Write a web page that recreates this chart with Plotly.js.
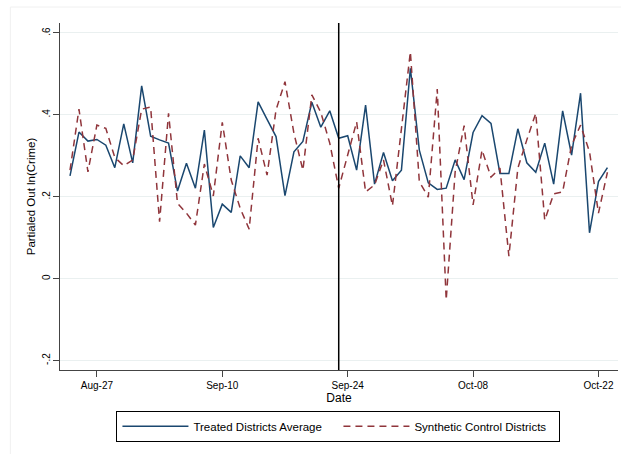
<!DOCTYPE html>
<html>
<head>
<meta charset="utf-8">
<script src="https://cdn.plot.ly/plotly-3.0.1.min.js"></script>
<style>html,body{margin:0;padding:0;background:#fff;}#chart{width:621px;height:454px;}</style>
</head>
<body>
<div id="chart"></div>
<script>
// ---- data ----
var startDate = "2019-08-24";
var nDays = 61;
var treated = [0.251,0.358,0.336,0.340,0.326,0.271,0.378,0.283,0.471,0.348,
  0.339,0.331,0.214,0.282,0.221,0.363,0.125,0.182,0.162,0.300,
  0.271,0.432,0.389,0.347,0.203,0.310,0.335,0.431,0.370,0.410,
  0.343,0.349,0.265,0.424,0.231,0.308,0.239,0.265,0.514,0.314,
  0.234,0.218,0.221,0.290,0.242,0.357,0.398,0.379,0.257,0.257,
  0.366,0.283,0.260,0.331,0.231,0.410,0.302,0.453,0.112,0.237,0.271];
var synthetic = [0.265,0.414,0.261,0.375,0.367,0.296,0.276,0.290,0.414,0.419,
  0.139,0.404,0.184,0.160,0.131,0.280,0.202,0.382,0.241,0.172,
  0.121,0.343,0.253,0.412,0.481,0.355,0.265,0.449,0.406,0.331,
  0.221,0.302,0.383,0.212,0.229,0.290,0.178,0.366,0.554,0.237,
  0.199,0.463,-0.052,0.261,0.374,0.180,0.314,0.248,0.270,0.055,
  0.270,0.339,0.404,0.143,0.207,0.212,0.326,0.375,0.310,0.160,0.260];
var xTickVals = ["2019-08-27","2019-09-10","2019-09-24","2019-10-08","2019-10-22"];
var xTickText = ["Aug-27","Sep-10","Sep-24","Oct-08","Oct-22"];
var yTickVals = [-0.2, 0, 0.2, 0.4, 0.6];
var yTickText = ["-.2","0",".2",".4",".6"];
var treatmentDate = "2019-09-23";
var seriesNames = ["Treated Districts Average", "Synthetic Control Districts"];

// dates
var dates = [];
var s = new Date(startDate + "T00:00:00Z");
for (var i = 0; i < nDays; i++) {
  var d = new Date(s.getTime() + i * 86400000);
  dates.push(d.toISOString().slice(0, 10));
}

var FONT = "Liberation Sans, Arial, Helvetica, sans-serif";

var traces = [
  {x: dates, y: treated, type: "scatter", mode: "lines", name: seriesNames[0],
   line: {color: "#1a476f", width: 1.5}},
  {x: dates, y: synthetic, type: "scatter", mode: "lines", name: seriesNames[1],
   line: {color: "#90353b", width: 1.5, dash: "7px,5px"}}
];

var layout = {
  width: 621, height: 454,
  margin: {l: 60, r: 3, t: 23, b: 84},
  paper_bgcolor: "#ffffff", plot_bgcolor: "#ffffff",
  font: {family: FONT, size: 10, color: "#000"},
  showlegend: true,
  xaxis: {
    type: "date",
    range: ["2019-08-22 21:10", "2019-10-24 04:20"],
    tickvals: xTickVals, ticktext: xTickText,
    ticks: "outside", ticklen: 6, tickcolor: "#444", tickwidth: 1,
    showline: true, linecolor: "#444", linewidth: 1,
    showgrid: false, zeroline: false,
    tickfont: {size: 10, family: FONT, color: "#000"},
    title: {text: "Date", font: {size: 12, family: FONT, color: "#000"}, standoff: 2}
  },
  yaxis: {
    range: [-0.223, 0.6244],
    tickvals: yTickVals, ticktext: yTickText,
    tickangle: -90,
    ticks: "outside", ticklen: 6, tickcolor: "#444", tickwidth: 1,
    ticklabelstandoff: -1,
    showline: true, linecolor: "#444", linewidth: 1,
    showgrid: true, gridcolor: "#eaf0f0", gridwidth: 1,
    zeroline: false,
    tickfont: {size: 10, family: FONT, color: "#000"},
    title: {text: "Partialed Out ln(Crime)", font: {size: 11.5, family: FONT, color: "#000"}, standoff: 2}
  },
  legend: {
    orientation: "h",
    xref: "container", yref: "container",
    x: 0.545, xanchor: "center",
    y: 0.095, yanchor: "top",
    bordercolor: "#000", borderwidth: 1,
    font: {size: 11.5, family: FONT, color: "#000"},
    itemwidth: 66,
    entrywidth: 140, entrywidthmode: "pixels",
    itemclick: false
  },
  shapes: [
    {type: "line", xref: "x", yref: "paper", x0: treatmentDate, x1: treatmentDate, y0: 0, y1: 1,
     line: {color: "#000", width: 1.5}},
    {type: "line", xref: "paper", yref: "paper", x0: -0.089, x1: 1.01, y0: 1.046, y1: 1.046,
     line: {color: "#f0f0f0", width: 1}},
    {type: "line", xref: "paper", yref: "paper", x0: -0.089, x1: -0.089, y0: 1.046, y1: -0.3,
     line: {color: "#f0f0f0", width: 1}}
  ]
};

Plotly.newPlot("chart", traces, layout, {displayModeBar: false, staticPlot: true});
</script>
</body>
</html>
